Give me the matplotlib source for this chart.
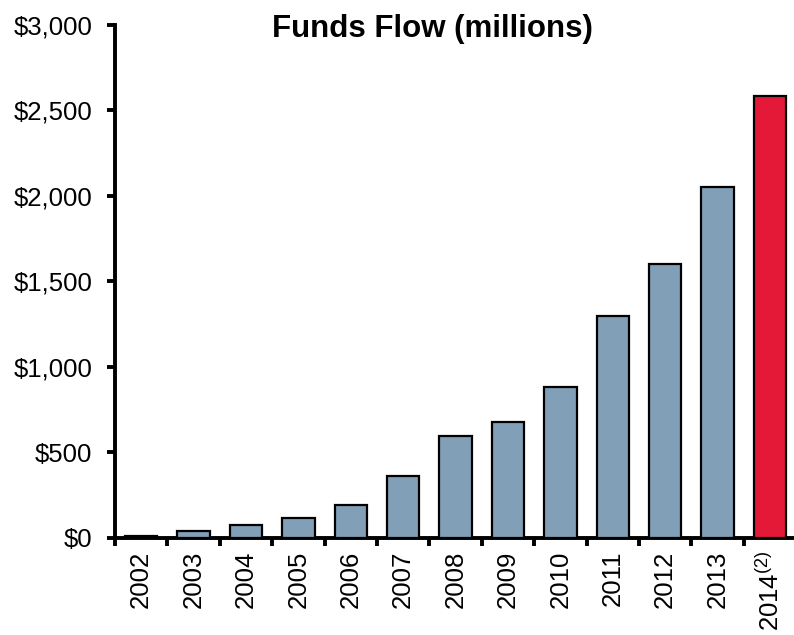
import matplotlib
matplotlib.use("Agg")
import matplotlib.pyplot as plt
from matplotlib.ticker import FuncFormatter, FixedLocator
import numpy as np

plt.rcParams['font.family'] = ['Liberation Sans', 'DejaVu Sans']
plt.rcParams['mathtext.fontset'] = 'custom'
plt.rcParams['mathtext.rm'] = 'Liberation Sans'

# fund flows per year, $ millions
years = ['2002', '2003', '2004', '2005', '2006', '2007', '2008',
         '2009', '2010', '2011', '2012', '2013', '2014$^{(2)}$']
flows = [10, 42, 76, 116, 195, 360, 595, 675, 885, 1295, 1600, 2050, 2580]
bar_colors = ['#819fb6'] * 12 + ['#e31937']

fig = plt.figure(figsize=(7.94, 6.35), dpi=100)
ax = fig.add_axes([0.1448, 0.1528, 0.858, 0.8086])

x = np.arange(len(years))
ax.bar(x, flows, width=0.62, color=bar_colors, edgecolor='black', linewidth=1.6, zorder=3)

ax.set_xlim(-0.5, len(years) - 0.5)
ax.set_ylim(0, 3000)

ax.set_yticks(np.arange(0, 3001, 500))
ax.yaxis.set_major_formatter(FuncFormatter(lambda v, p: '${:,.0f}'.format(v)))
ax.tick_params(axis='y', direction='out', length=6, width=2.8, pad=10.5, labelsize=18.5)

# labels sit under the bars, tick marks go between them
ax.set_xticks(x)
ax.set_xticklabels(years, rotation=90)
ax.tick_params(axis='x', which='major', length=0, pad=9, labelsize=18.5)
ax.xaxis.set_minor_locator(FixedLocator(np.arange(-0.5, len(years), 1.0)))
ax.tick_params(axis='x', which='minor', direction='out', length=6, width=2.8)

for side in ['top', 'right']:
    ax.spines[side].set_visible(False)
for side in ['left', 'bottom']:
    ax.spines[side].set_linewidth(2.8)

fig.text(0.5445, 0.955, 'Funds Flow (millions)', ha='center', va='center',
         fontsize=22.5, fontweight='bold')

fig.savefig('out.png', dpi=100)
